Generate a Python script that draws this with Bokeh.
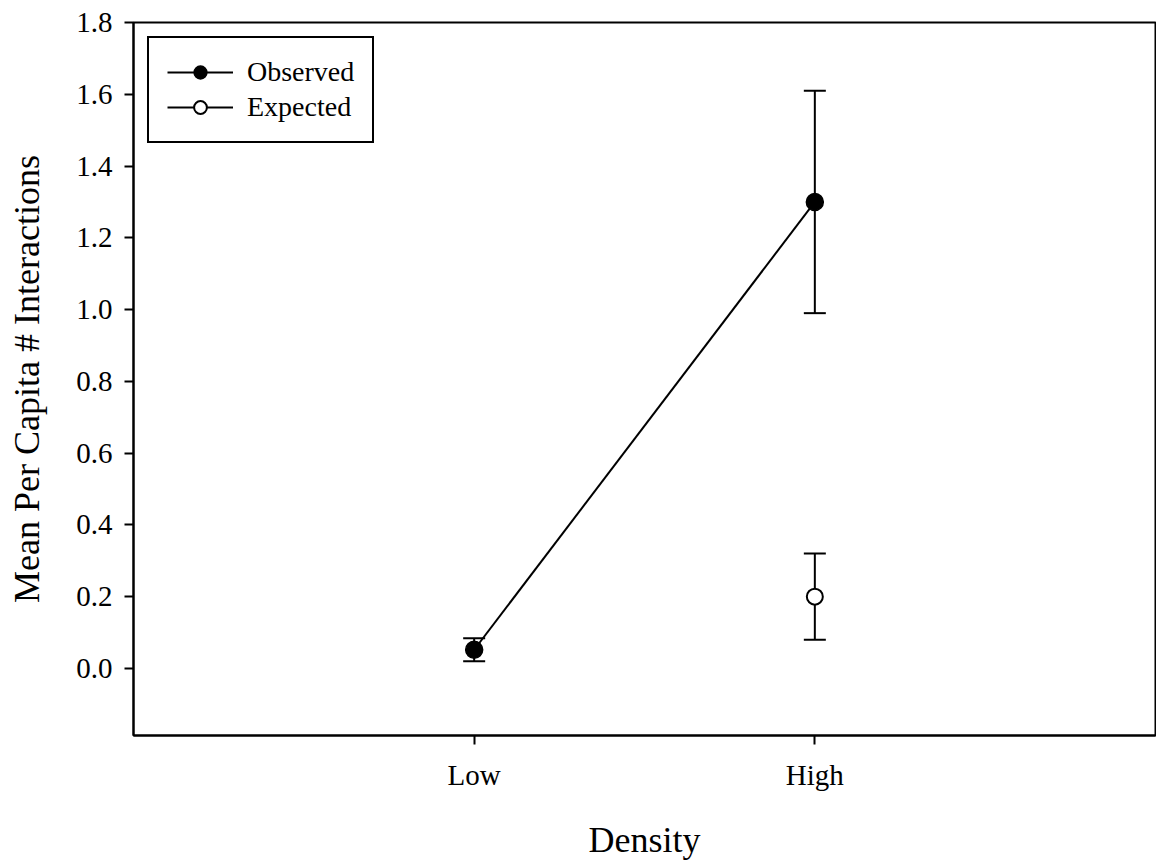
from bokeh.plotting import figure
from bokeh.models import (ColumnDataSource, Whisker, TeeHead, FixedTicker,
                          Range1d, Legend, LegendItem, NumeralTickFormatter)
from bokeh.embed import file_html
from bokeh.resources import INLINE

# Density groups and their axis positions
categories = ["Low", "High"]
cat_pos = [1, 2]

# Observed mean per-capita interactions (with standard error)
observed_mean = [0.052, 1.30]
observed_err = [0.032, 0.31]

# Expected mean (only for the high-density group)
expected_cat = ["High"]
expected_mean = [0.20]
expected_err = [0.12]

FONT = "Liberation Serif"

pos_of = dict(zip(categories, cat_pos))

obs = ColumnDataSource(dict(
    x=[pos_of[c] for c in categories],
    y=observed_mean,
    lo=[m - e for m, e in zip(observed_mean, observed_err)],
    hi=[m + e for m, e in zip(observed_mean, observed_err)],
))
exp = ColumnDataSource(dict(
    x=[pos_of[c] for c in expected_cat],
    y=expected_mean,
    lo=[m - e for m, e in zip(expected_mean, expected_err)],
    hi=[m + e for m, e in zip(expected_mean, expected_err)],
))

p = figure(frame_width=1022, frame_height=713, output_backend="svg",
           toolbar_location=None, x_range=Range1d(0, 3),
           y_range=Range1d(-0.187, 1.8))
p.min_border_left = 133
p.min_border_top = 22
p.min_border_bottom = 125
p.min_border_right = 1

p.background_fill_color = "white"
p.border_fill_color = "white"
p.grid.visible = False
p.outline_line_color = "black"
p.outline_line_alpha = 1
p.outline_line_width = 2

# axes
p.xaxis.ticker = FixedTicker(ticks=cat_pos)
p.xaxis.major_label_overrides = {k: v for k, v in zip(cat_pos, categories)}
p.yaxis.ticker = FixedTicker(ticks=[i * 0.2 for i in range(10)])
p.yaxis.formatter = NumeralTickFormatter(format="0.0")

for ax in (p.xaxis[0], p.yaxis[0]):
    ax.axis_line_width = 2
    ax.axis_line_color = "black"
    ax.major_tick_line_width = 2
    ax.major_tick_line_color = "black"
    ax.major_tick_in = 0
    ax.major_tick_out = 9
    ax.minor_tick_line_color = None
    ax.major_label_text_font = FONT
    ax.major_label_text_font_size = "29px"
    ax.major_label_text_color = "black"
    ax.axis_label_text_font = FONT
    ax.axis_label_text_font_size = "36px"
    ax.axis_label_text_font_style = "normal"
    ax.axis_label_text_color = "black"

p.xaxis.axis_label = "Density"
p.yaxis.axis_label = "Mean Per Capita # Interactions"
p.yaxis.major_label_standoff = 12
p.yaxis.axis_label_standoff = 26
p.xaxis.major_label_standoff = 14
p.xaxis.axis_label_standoff = 26

# error bars
for src in (obs, exp):
    w = Whisker(source=src, base="x", lower="lo", upper="hi",
                line_color="black", line_width=2,
                upper_head=TeeHead(size=22, line_width=2, line_color="black"),
                lower_head=TeeHead(size=22, line_width=2, line_color="black"))
    p.add_layout(w)

obs_line = p.line("x", "y", source=obs, line_color="black", line_width=2)
obs_pts = p.scatter("x", "y", source=obs, size=17, fill_color="black",
                    line_color="black", line_width=1.5)
# a single expected point, so this line only shows up as a legend swatch
exp_line = p.line("x", "y", source=exp, line_color="black", line_width=2)
exp_pts = p.scatter("x", "y", source=exp, size=16, fill_color="white",
                    line_color="black", line_width=2)

legend = Legend(items=[
    LegendItem(label="Observed", renderers=[obs_line, obs_pts]),
    LegendItem(label="Expected", renderers=[exp_line, exp_pts]),
], location="top_left")
legend.label_text_font = FONT
legend.label_text_font_size = "28px"
legend.label_text_color = "black"
legend.glyph_width = 66
legend.glyph_height = 32
legend.label_height = 32
legend.label_standoff = 14
legend.spacing = 3
legend.padding = 18
legend.margin = 14
legend.border_line_color = "black"
legend.border_line_alpha = 1
legend.border_line_width = 2
legend.background_fill_alpha = 1
p.add_layout(legend)

open("out.html", "w").write(file_html(p, INLINE))
